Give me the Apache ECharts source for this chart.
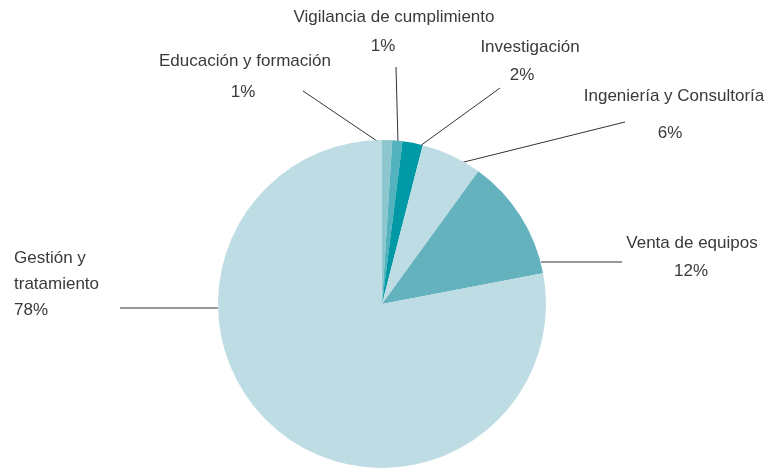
<!DOCTYPE html>
<html>
<head>
<meta charset="utf-8">
<script src="https://cdn.jsdelivr.net/npm/echarts@6/dist/echarts.min.js"></script>
<style>
  html, body { margin: 0; padding: 0; background: #fff; }
  #main { width: 769px; height: 470px; }
</style>
</head>
<body>
<div id="main"></div>
<script>
// sectores, en sentido horario desde las 12
const categories = ['Educación y formación', 'Vigilancia de cumplimiento', 'Investigación',
  'Ingeniería y Consultoría', 'Venta de equipos', 'Gestión y tratamiento'];
const shares = [1, 1, 2, 6, 12, 78];
const colors = ['#8ec6d0', '#52b2bd', '#0099a5', '#bddce3', '#64b2be', '#bddce3'];

// donde va cada etiqueta y su linea guia
const places = [
  { x: 245, y: 46, lh: 31, shift: 2, align: 'center', from: [380, 143], to: [303, 91] },
  { x: 394, y: 3, lh: 29, shift: 11, align: 'center', from: [398, 143], to: [396, 67] },
  { x: 530, y: 33, lh: 28, shift: 8, align: 'center', from: [420, 146], to: [500, 88] },
  { x: 674, y: 78, lh: 37, shift: 4, align: 'center', from: [460, 163], to: [625, 122] },
  { x: 692, y: 229, lh: 28, shift: 1, align: 'center', from: [541, 262], to: [622, 262] },
  { x: 14, y: 245, lh: 26, shift: 0, align: 'left', from: [218, 308], to: [120, 308] }
];

const chart = echarts.init(document.getElementById('main'));

const rich = {};
places.forEach(function (p, i) {
  rich['n' + i] = { fontSize: 17, lineHeight: p.lh, color: '#3a3a3a' };
  rich['p' + i] = { fontSize: 17, lineHeight: p.lh, color: '#3a3a3a', padding: [0, p.shift * 2, 0, 0] };
});

const option = {
  animation: false,
  textStyle: { fontFamily: "'Liberation Sans', Arial, sans-serif" },
  series: [
    {
      type: 'pie',
      center: [382, 304],
      radius: 164,
      startAngle: 90,
      clockwise: true,
      avoidLabelOverlap: false,
      data: categories.map(function (n, i) {
        return { name: n, value: shares[i], itemStyle: { color: colors[i] } };
      }),
      label: {
        show: true,
        position: 'outside',
        fontFamily: "'Liberation Sans', Arial, sans-serif",
        formatter: function (params) {
          const i = params.dataIndex;
          let name = params.name;
          if (i === 5) name = name.replace('y ', 'y\n');
          return '{n' + i + '|' + name + '}\n{p' + i + '|' + params.value + '%}';
        },
        rich: rich
      },
      labelLine: {
        show: true,
        smooth: false,
        lineStyle: { color: '#333', width: 1 }
      },
      labelLayout: function (params) {
        const p = places[params.dataIndex];
        return {
          x: p.x,
          y: p.y,
          align: p.align,
          verticalAlign: 'top',
          labelLinePoints: [p.from, p.to, p.to]
        };
      },
      emphasis: { disabled: true }
    }
  ]
};

chart.setOption(option);
</script>
</body>
</html>
